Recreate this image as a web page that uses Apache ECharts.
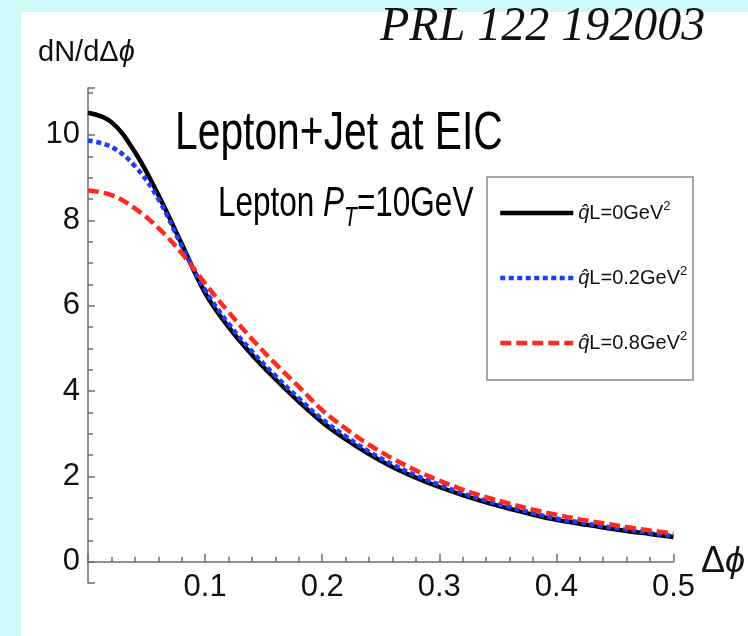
<!DOCTYPE html>
<html>
<head>
<meta charset="utf-8">
<script src="https://cdn.jsdelivr.net/npm/echarts@6/dist/echarts.min.js"></script>
<style>
  html, body { margin: 0; padding: 0; background: #cffafa; }
  #main { width: 748px; height: 636px; }
</style>
</head>
<body>
<div id="main"></div>
<script>
// Δφ values
var dphi = [0, 0.02, 0.04, 0.06, 0.08, 0.1, 0.12, 0.14, 0.16, 0.18, 0.2, 0.22, 0.24,
            0.26, 0.28, 0.3, 0.32, 0.34, 0.36, 0.38, 0.4, 0.42, 0.44, 0.46, 0.48, 0.5];
// dN/dΔφ for each qhat L
var q0 = [10.52, 10.3, 9.6, 8.6, 7.45, 6.3, 5.5, 4.85, 4.28, 3.75, 3.27, 2.87, 2.52,
          2.22, 1.97, 1.75, 1.56, 1.39, 1.24, 1.1, 0.98, 0.89, 0.8, 0.72, 0.65, 0.58];
var q02 = [9.87, 9.72, 9.27, 8.5, 7.4, 6.37, 5.58, 4.93, 4.36, 3.83, 3.34, 2.94, 2.58,
           2.28, 2.02, 1.8, 1.6, 1.43, 1.28, 1.14, 1.01, 0.92, 0.83, 0.75, 0.67, 0.6];
var q08 = [8.70, 8.59, 8.28, 7.82, 7.23, 6.52, 5.85, 5.22, 4.64, 4.1, 3.55, 3.12, 2.74,
           2.42, 2.14, 1.9, 1.69, 1.51, 1.36, 1.22, 1.1, 0.99, 0.9, 0.81, 0.73, 0.66];
var names = ['{i|q\u0302}L=0GeV{s|2}', '{i|q\u0302}L=0.2GeV{s|2}', '{i|q\u0302}L=0.8GeV{s|2}'];

function pairs(ys) {
	var out = [];
	for (var i = 0; i < dphi.length; i++) out.push([dphi[i], ys[i]]);
	return out;
}

var sans = "'Liberation Sans', Arial, sans-serif";
var axisCol = '#6e6e6e';
var noSymbol = { color: 'rgba(0,0,0,0)', borderWidth: 0 };

var mainChart = echarts.init(document.getElementById('main'));
var chartOpt = {
	backgroundColor: '#cffafa',
	animation: false,
	grid: { left: 88, right: 72, top: 88, bottom: 53 },
	graphic: [
		{ type: 'rect', z: -100, shape: { x: 21, y: 12, width: 727, height: 624 }, style: { fill: '#ffffff' } },
		{ type: 'rect', shape: { x: 487, y: 177, width: 206, height: 203 },
		  style: { fill: 'none', stroke: '#8a8a8a', lineWidth: 1.5 } },
		{ type: 'text', x: 380, y: 27,
		  style: { text: 'PRL 122 192003', fontFamily: "'Liberation Serif', serif", fontStyle: 'italic',
		           fontSize: 48, fill: '#111', verticalAlign: 'middle' } },
		{ type: 'text', x: 38, y: 53,
		  style: { text: 'dN/dΔ{i|ϕ}', fontFamily: sans, fontSize: 29,
		           fill: '#111', verticalAlign: 'middle',
		           rich: { i: { fontFamily: sans, fontStyle: 'italic', fontSize: 29, fill: '#111' } } } },
		{ type: 'text', x: 175, y: 134, scaleX: 0.77,
		  style: { text: 'Lepton+Jet at EIC', fontFamily: sans, fontSize: 53,
		           fill: '#000', verticalAlign: 'middle' } },
		{ type: 'text', x: 218, y: 204, scaleX: 0.75,
		  style: { text: '{a|Lepton }{p|P}{s|T}{a|=10GeV}', verticalAlign: 'middle',
		           rich: {
		             a: { fontFamily: sans, fontSize: 42, lineHeight: 56, fill: '#000' },
		             p: { fontFamily: sans, fontStyle: 'italic', fontSize: 42, lineHeight: 56, fill: '#000' },
		             s: { fontFamily: sans, fontStyle: 'italic', fontSize: 28, lineHeight: 56,
		                  verticalAlign: 'bottom', fill: '#000' }
		           } } }
	],
	legend: {
		orient: 'vertical',
		left: 498,
		top: 200,
		padding: 0,
		itemWidth: 73,
		itemHeight: 14,
		itemGap: 39,
		textStyle: {
			fontFamily: sans, fontSize: 20, color: '#111', lineHeight: 26,
			rich: {
				i: { fontFamily: sans, fontStyle: 'italic', fontSize: 20, color: '#111', lineHeight: 26 },
				s: { fontFamily: sans, fontSize: 13, color: '#111', lineHeight: 26, verticalAlign: 'top' }
			}
		},
		data: [
			{ name: names[0], itemStyle: noSymbol, lineStyle: { color: '#000', width: 4.5, type: 'solid' } },
			{ name: names[1], itemStyle: noSymbol, lineStyle: { color: '#1a3cff', width: 4.5, type: [5, 3.5] } },
			{ name: names[2], itemStyle: noSymbol, lineStyle: { color: '#ff2a1e', width: 4.5, type: [11, 5] } }
		]
	},
	xAxis: {
		type: 'value',
		min: 0,
		max: 0.5,
		interval: 0.1,
		name: 'Δ{i|ϕ}',
		nameLocation: 'end',
		nameGap: 8,
		nameTextStyle: {
			fontFamily: sans, fontSize: 36, color: '#111',
			rich: { i: { fontFamily: sans, fontStyle: 'italic', fontSize: 36, color: '#111' } }
		},
		axisLine: { onZero: true, lineStyle: { color: axisCol, width: 1.5 } },
		axisTick: { inside: true, length: 8, lineStyle: { color: axisCol, width: 1.5 } },
		minorTick: { show: true, splitNumber: 5, length: 5, lineStyle: { color: axisCol, width: 1.5 } },
		splitLine: { show: false },
		axisLabel: {
			fontFamily: sans, fontSize: 31, color: '#111', margin: -11,
			formatter: function (v) { return v === 0 ? '' : String(v); }
		}
	},
	yAxis: {
		type: 'value',
		min: -0.5,
		max: 11.1,
		splitNumber: 6,
		axisLine: { show: true, onZero: false, lineStyle: { color: axisCol, width: 1.5 } },
		axisTick: { show: true, inside: true, length: 7, lineStyle: { color: axisCol, width: 1.5 } },
		minorTick: { show: true, splitNumber: 4, length: 5, lineStyle: { color: axisCol, width: 1.5 } },
		splitLine: { show: false },
		axisLabel: {
			fontFamily: sans, fontSize: 31, color: '#111', margin: 8,
			showMinLabel: false, showMaxLabel: false
		}
	},
	series: [
		{ name: names[0], type: 'line', data: pairs(q0), smooth: 0.4, symbol: 'none',
		  itemStyle: { color: '#000' },
		  lineStyle: { color: '#000', width: 4.5 } },
		{ name: names[1], type: 'line', data: pairs(q02), smooth: 0.4, symbol: 'none',
		  itemStyle: { color: '#1a3cff' },
		  lineStyle: { color: '#1a3cff', width: 4.5, type: [5, 3.5] } },
		{ name: names[2], type: 'line', data: pairs(q08), smooth: 0.4, symbol: 'none',
		  itemStyle: { color: '#ff2a1e' },
		  lineStyle: { color: '#ff2a1e', width: 4.5, type: [11, 5] } }
	]
};
mainChart.setOption(chartOpt);
</script>
</body>
</html>
